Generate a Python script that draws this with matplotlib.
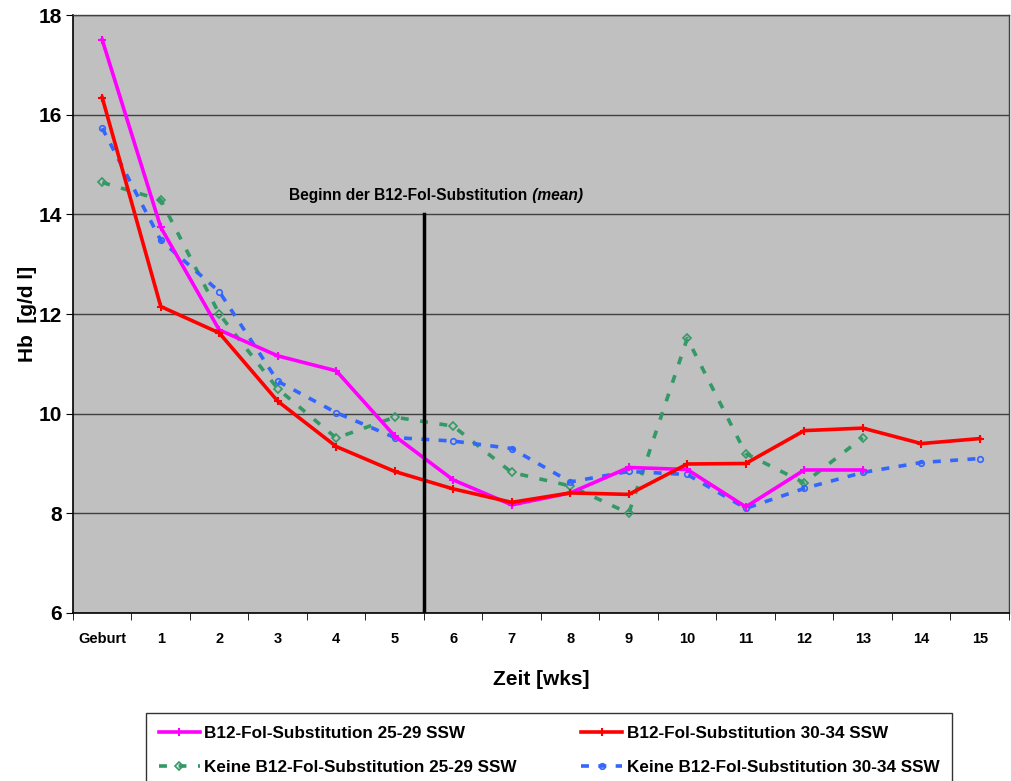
import matplotlib
matplotlib.use("Agg")
import matplotlib.pyplot as plt

plt.rcParams['font.family'] = ['Liberation Sans Narrow', 'Liberation Sans', 'DejaVu Sans']
plt.rcParams['font.weight'] = 'bold'

# categories on the x axis
weeks = ["Geburt", "1", "2", "3", "4", "5", "6", "7", "8", "9",
         "10", "11", "12", "13", "14", "15"]

b12_25_29 = [17.5, 13.74, 11.68, 11.16, 10.86, 9.55, 8.67, 8.17, 8.41, 8.92,
             8.88, 8.13, 8.87, 8.87, None, None]
b12_30_34 = [16.34, 12.15, 11.62, 10.25, 9.34, 8.84, 8.49, 8.22, 8.41, 8.38,
             8.99, 9.0, 9.66, 9.71, 9.4, 9.5]
keine_25_29 = [14.64, 14.29, 12.0, 10.5, 9.51, 9.93, 9.75, 8.82, 8.55, 8.0,
               11.51, 9.2, 8.61, 9.52, None, None]
keine_30_34 = [15.73, 13.48, 12.45, 10.65, 10.02, 9.52, 9.45, 9.3, 8.63, 8.84,
               8.78, 8.1, 8.5, 8.82, 9.02, 9.1]

start_pos = 5.5  # Beginn der Substitution (mean), between week 5 and 6


def clean(vals):
    xs = [i for i, v in enumerate(vals) if v is not None]
    ys = [v for v in vals if v is not None]
    return xs, ys


fig = plt.figure(figsize=(10.12, 7.81), dpi=100)
ax = fig.add_axes([73 / 1012, 1 - 613 / 781, (1009 - 73) / 1012, (613 - 15) / 781])
ax.set_facecolor("#C0C0C0")

x, y = clean(b12_25_29)
l1, = ax.plot(x, y, color="#FF00FF", lw=2.6, marker="+", ms=6, mew=1.5,
              label="B12-Fol-Substitution 25-29 SSW", zorder=4)
x, y = clean(b12_30_34)
l2, = ax.plot(x, y, color="#FF0000", lw=2.6, marker="+", ms=6, mew=1.5,
              label="B12-Fol-Substitution 30-34 SSW", zorder=5)
x, y = clean(keine_25_29)
l3, = ax.plot(x, y, color="#339966", lw=2.6, ls=(0, (2.2, 3.2)), marker="D", ms=4,
              mfc="none", mew=1.2, label="Keine B12-Fol-Substitution 25-29 SSW", zorder=3)
x, y = clean(keine_30_34)
l4, = ax.plot(x, y, color="#3366FF", lw=2.6, ls=(0, (2.2, 2.6)), marker="o", ms=4,
              mfc="none", mew=1.2, label="Keine B12-Fol-Substitution 30-34 SSW", zorder=3)

# vertical marker line
ax.plot([start_pos, start_pos], [6, 14], color="black", lw=2.5, zorder=6)
t1 = ax.text(3.2, 14.37, "Beginn der B12-Fol-Substitution", fontsize=11.2,
             fontweight="bold", ha="left", va="center")
ax.annotate(" (mean)", xy=(1, 0), xycoords=t1, va="bottom", ha="left",
            fontsize=11.2, fontweight="bold", style="italic")

ax.set_xlim(-0.5, len(weeks) - 0.5)
ax.set_ylim(6, 18)
ax.set_yticks(range(6, 19, 2))
ax.grid(axis="y", color="#404040", lw=1)
ax.set_axisbelow(True)

ax.set_xticks(range(len(weeks)))
ax.set_xticklabels(weeks, fontsize=10.5, fontweight="bold")
ax.set_xticks([i - 0.5 for i in range(len(weeks) + 1)], minor=True)
ax.tick_params(axis="x", which="major", length=0, pad=14)
ax.tick_params(axis="x", which="minor", length=5, direction="out", color="black")
ax.tick_params(axis="y", length=5, direction="out", labelsize=15, pad=3)
for lab in ax.get_yticklabels():
    lab.set_fontweight("bold")

for s in ["left", "bottom"]:
    ax.spines[s].set_color("black")
    ax.spines[s].set_linewidth(1.2)
for s in ["top", "right"]:
    ax.spines[s].set_color("#404040")
    ax.spines[s].set_linewidth(1)

ax.set_xlabel("Zeit [wks]", fontsize=15, fontweight="bold", labelpad=17)
ax.set_ylabel("Hb  [g/d l]", fontsize=15, fontweight="bold", labelpad=1)

# legend: row 1 = substitution, row 2 = keine (matplotlib fills column-wise)
leg_h = 0.12
leg = fig.legend([l1, l3, l2, l4], [l1.get_label(), l3.get_label(), l2.get_label(), l4.get_label()],
                 loc="upper left", ncol=2, mode="expand", borderaxespad=0,
                 bbox_to_anchor=(146 / 1012, 1 - 713 / 781 - leg_h, (952 - 146) / 1012, leg_h),
                 fontsize=12.3, frameon=True, fancybox=False, edgecolor="black",
                 handlelength=2.4, handletextpad=0.25, borderpad=0.75,
                 labelspacing=1.1, columnspacing=2.0)
leg.get_frame().set_linewidth(1)
leg._legend_box.align = "left"
for t in leg.get_texts():
    t.set_fontweight("bold")

fig.savefig("out.png", dpi=100)
